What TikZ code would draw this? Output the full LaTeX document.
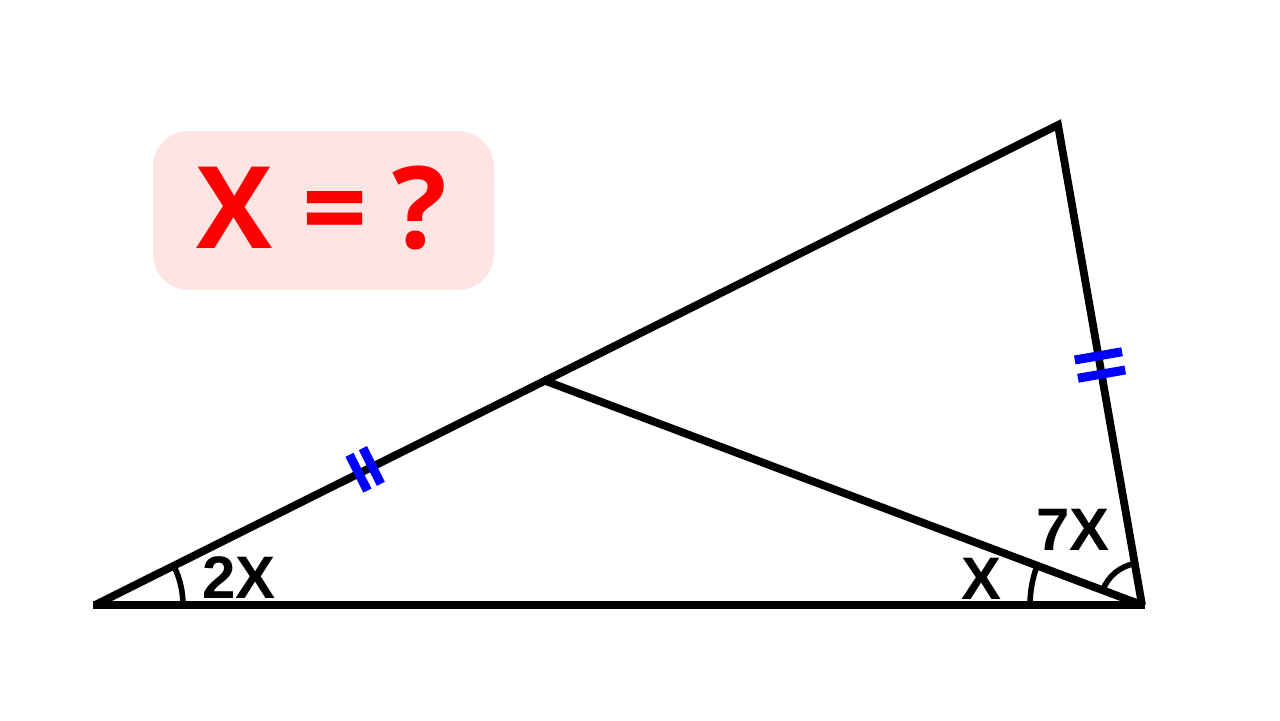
\documentclass[tikz,border=0pt]{standalone}
\usepackage{fontspec}
\setmainfont{Liberation Sans}
\newfontfamily\qfont{Open Sans}
\usetikzlibrary{calc}
\definecolor{boxpink}{RGB}{255,228,228}
\tikzset{
  side/.style={line width=3.9pt},
  arcmark/.style={line width=2.8pt},
  tick/.style={blue,line width=4.5pt},
  anglab/.style={font=\fontsize{30}{30}\selectfont\bfseries}
}
\begin{document}
\begin{tikzpicture}[x=0.5pt,y=0.5pt]
	\useasboundingbox (0,0) rectangle (1280,720);
	% question box
	\node[fill=boxpink,rounded corners=18pt,minimum width=170.5pt,minimum height=79.5pt] (qbox) at (323.5,509.5) {};
	\node[red,font=\qfont\fontsize{57}{57}\selectfont\bfseries] (q) at (321.5,512) {X\hspace{15pt}=\hspace{12.5pt}?};
	% triangle
	\coordinate (A) at (95,115);
	\coordinate (B) at (1142,115);
	\coordinate (C) at (1058,595);
	\coordinate (D) at (543,340);
	\draw[side] (A) -- (C) -- (B);
	\draw[side] ($(A)+(-2,0)$) -- ($(B)+(3,0)$);
	\draw[side] (D) -- (B);
	% angle marks
	\draw[arcmark] ($(A)+(88,0)$) arc[start angle=0,end angle=26.5,radius=44pt];
	\draw[arcmark] ($(B)+(159.4:112)$) arc[start angle=159.4,end angle=180,radius=56pt];
	\draw[arcmark] ($(B)+(99.9:42)$) arc[start angle=99.9,end angle=159.4,radius=21pt];
	\node[anglab] (l2x) at (239,142) {2X};
	\node[anglab] (lx) at (981,141) {X};
	\node[anglab] (l7x) at (1073,190) {7X};
	% equal sides
	\foreach \s in {-1,1}{
		\coordinate (t) at ($(A)!{0.603+\s*0.015}!(D)$);
		\draw[tick] ($(t)!10pt!90:(D)$) -- ($(t)!10pt!-90:(D)$);
		\coordinate (u) at ($(B)!{0.5+\s*0.019}!(C)$);
		\draw[tick] ($(u)!12pt!90:(C)$) -- ($(u)!12pt!-90:(C)$);
	}
\end{tikzpicture}
\end{document}
